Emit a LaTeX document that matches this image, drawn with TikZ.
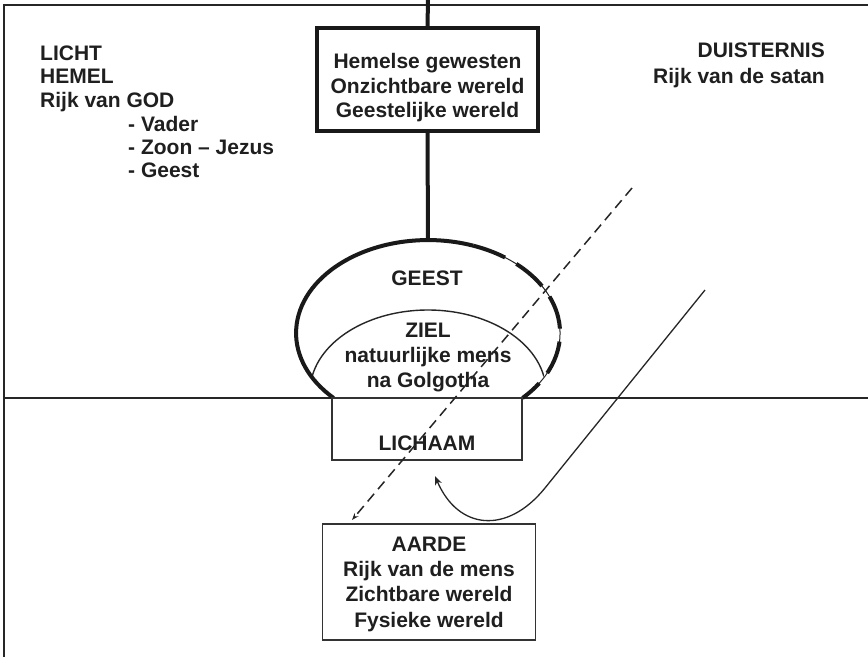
\documentclass[tikz,border=0pt]{standalone}
\usepackage{fontspec}
\setmainfont{Liberation Sans}
\usetikzlibrary{arrows.meta}
\begin{document}
\begin{tikzpicture}[x=1pt,y=-1pt,
  lbl/.style={font=\fontsize{21}{24}\selectfont\bfseries, text=black!88, inner sep=0pt},
  frameline/.style={line width=2.2pt, draw=black!85},
  boxthick/.style={draw=black!90, line width=3.3pt, rectangle, inner sep=0pt},
  boxthin/.style={draw=black!80, line width=1.6pt, rectangle, inner sep=0pt},
  heavy/.style={line width=4pt, draw=black!90},
  thinline/.style={line width=1.4pt, draw=black!85},
  dashline/.style={line width=1.5pt, draw=black!85, dash pattern=on 10pt off 6pt},
  tip/.style={-{Stealth[length=9pt,width=7pt]}}
]
\fill[white] (0,0) rectangle (868,657);
\useasboundingbox (0,0) rectangle (868,657);

% frame
\coordinate (fTL) at (4,5);
\coordinate (fTR) at (868,5);
\coordinate (fBL) at (4,657);
\draw[frameline] (fTR) -- (fTL) -- (fBL);

% horizon
\coordinate (hL) at (4,398);
\coordinate (hR) at (868,398);
\draw[thinline] (hL) -- (hR);

% top box
\node[boxthick, minimum width=221pt, minimum height=103pt] (hemel) at (427.5,79.5) {};
\node[lbl, anchor=base] (h1) at (427.5,68) {Hemelse gewesten};
\node[lbl, anchor=base] (h2) at (427.5,93) {Onzichtbare wereld};
\node[lbl, anchor=base] (h3) at (427.5,117) {Geestelijke wereld};

% vertical line
\coordinate (vTop) at (428,0);
\coordinate (domeTop) at (428,240);
\draw[heavy] (vTop) -- (hemel.north);
\draw[heavy] (hemel.south) -- (domeTop);

% left texts
\node[lbl, anchor=base west] (licht) at (40,60) {LICHT};
\node[lbl, anchor=base west] (hemeltxt) at (40,83) {HEMEL};
\node[lbl, anchor=base west] (god) at (40,107) {Rijk van GOD};
\node[lbl, anchor=base west] (vader) at (128,131) {- Vader};
\node[lbl, anchor=base west] (zoon) at (128,154) {- Zoon -- Jezus};
\node[lbl, anchor=base west] (geest1) at (128,177) {- Geest};

% right texts
\node[lbl, anchor=base east] (duister) at (825,57) {DUISTERNIS};
\node[lbl, anchor=base east] (satan) at (825,83) {Rijk van de satan};

% inner ellipse (ZIEL), kept inside the dome
\begin{scope}
  \clip (428,333) ellipse[x radius=131, y radius=92];
  \draw[line width=1.4pt, draw=black!85] (310,398) -- (310,392) arc[start angle=180, end angle=360, x radius=118, y radius=82] -- (546,398);
\end{scope}

% dome (GEEST)
\coordinate (domeBL) at (333.6,398);
\draw[heavy] (domeBL) arc[start angle=135.7, end angle=290, x radius=132, y radius=93] coordinate (domeMid);
\draw[line width=1pt, draw=black!85] (domeMid) arc[start angle=290, end angle=404.3, x radius=132, y radius=93] coordinate (domeBR);
\draw[heavy, dash pattern=on 34pt off 13pt] (domeMid) arc[start angle=290, end angle=404.3, x radius=132, y radius=93];

\node[lbl, anchor=base] (geest) at (427,285) {GEEST};
\node[lbl, anchor=base] (ziel) at (428,337) {ZIEL};
\node[lbl, anchor=base] (natmens) at (428,362) {natuurlijke mens};
\node[lbl, anchor=base] (golg) at (428,387) {na Golgotha};

% LICHAAM box
\node[boxthin, minimum width=190pt, minimum height=62pt] (lichaam) at (427,429) {};
\node[lbl, anchor=base] (lichtxt) at (427,450) {LICHAAM};

% AARDE box
\node[boxthin, minimum width=213pt, minimum height=116pt] (aarde) at (429,582) {};
\node[lbl, anchor=base] (a1) at (429,551) {AARDE};
\node[lbl, anchor=base] (a2) at (429,576) {Rijk van de mens};
\node[lbl, anchor=base] (a3) at (429,601) {Zichtbare wereld};
\node[lbl, anchor=base] (a4) at (429,627) {Fysieke wereld};

% dashed line
\coordinate (dTop) at (632,188);
\coordinate (dBot) at (352,520);
\draw[dashline, -{Stealth[length=7pt,width=5pt]}] (dTop) -- (dBot);

% curved arrow
\coordinate (cStart) at (705,290);
\coordinate (cBend) at (545,488);
\coordinate (cEnd) at (435,476);
\draw[line width=1.3pt, draw=black!85, tip] (cStart) -- (cBend) .. controls (507,535) and (458,530) .. (cEnd);
\end{tikzpicture}
\end{document}
